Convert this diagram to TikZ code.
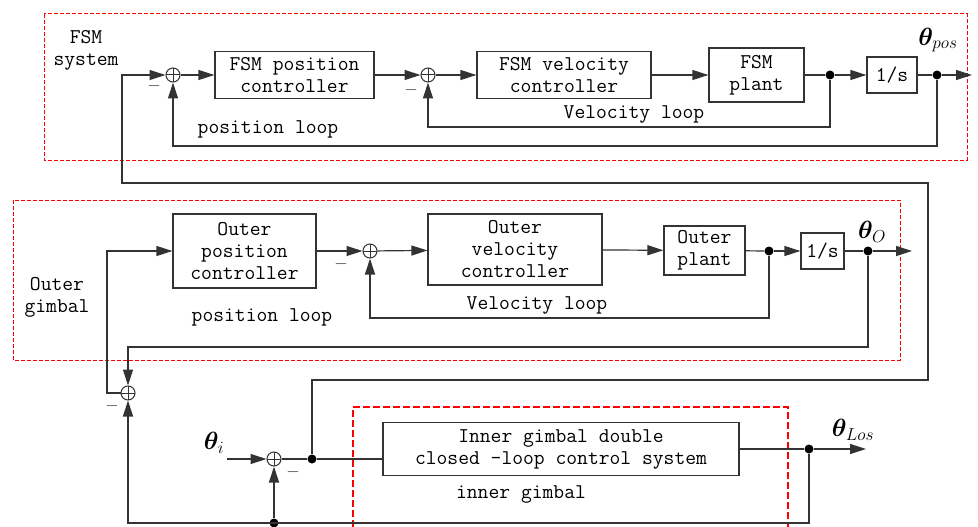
\documentclass[tikz,border=0pt]{standalone}
\usepackage{fontspec}
\usepackage{bm}
\usetikzlibrary{arrows.meta}

\newcommand\blkfont{\ttfamily\fontsize{21}{22}\selectfont}

\tikzset{
  sig/.style={line width=1.2pt, draw=black!80},
  arr/.style={sig, -{Triangle[length=16pt,width=10pt]}},
  blk/.style={draw=black!80, line width=1.2pt, inner sep=0pt, align=center, font=\blkfont},
  sumpt/.style={circle, draw=black!80, line width=1pt, minimum size=14pt, inner sep=0pt,
    path picture={\draw[line width=1pt] (path picture bounding box.north) -- (path picture bounding box.south)
      (path picture bounding box.west) -- (path picture bounding box.east);}},
  dot/.style={circle, fill=black, inner sep=0pt, minimum size=9pt},
  grp/.style={draw=red, line width=1pt, dash pattern=on 4pt off 2pt},
  lbl/.style={font=\blkfont, align=center, inner sep=0pt},
  sgn/.style={font=\fontsize{16}{16}\selectfont, text=black!80, inner sep=0pt},
  ang/.style={font=\fontsize{24}{24}\selectfont, inner sep=0pt}
}

\begin{document}
\begin{tikzpicture}[x=1pt, y=-1pt]
  \useasboundingbox (0,0) rectangle (978,527);

  % dashed group frames
  \draw[grp] (44,14) rectangle (967,160);
  \draw[grp] (13,200) rectangle (900,360);
  \draw[grp, line width=1.1pt, dash pattern=on 7pt off 3pt] (353,527) -- (353,407) -- (788,407) -- (788,527);

  % FSM system
  \node[lbl] (fsmlbl) at (86,50) {FSM\\system};
  \node[sumpt] (s1) at (173,75) {};
  \node[blk, minimum width=159pt, minimum height=47pt] (fpc) at (294.5,75) {FSM position\\controller};
  \node[sumpt] (s2) at (428,75) {};
  \node[blk, minimum width=174pt, minimum height=47pt] (fvc) at (564,75) {FSM velocity\\controller};
  \node[blk, minimum width=95pt, minimum height=54pt] (fpl) at (756.5,75) {FSM\\plant};
  \node[dot] (d1) at (830,75) {};
  \node[blk, minimum width=50pt, minimum height=36pt] (fint) at (892,75) {1/s};
  \node[dot] (d2) at (937,75) {};
  \coordinate (fout) at (972,75);
  \node[ang] (tpos) at (938,40) {$\bm{\theta}_{pos}$};
  \node[sgn] (m1) at (154,86) {$-$};
  \node[sgn] (m2) at (411,90) {$-$};
  \node[lbl] (vl1) at (634,114) {Velocity loop};
  \node[lbl] (pl1) at (268,129) {position loop};

  \draw[arr] (s1) -- (fpc);
  \draw[arr] (fpc) -- (s2);
  \draw[arr] (s2) -- (fvc);
  \draw[arr] (fvc) -- (fpl);
  \draw[sig] (fpl) -- (d1);
  \draw[arr] (d1) -- (fint);
  \draw[sig] (fint) -- (d2);
  \draw[arr] (d2) -- (fout);
  \draw[arr] (d1) -- (d1 |- 0,127) -| (s2);
  \draw[arr] (d2) -- (d2 |- 0,146) -| (s1);

  % outer gimbal
  \node[lbl] (outlbl) at (57,297) {Outer\\gimbal};
  \node[sumpt] (s3) at (128,393) {};
  \node[blk, minimum width=143pt, minimum height=74pt] (opc) at (244.5,251) {Outer\\position\\controller};
  \node[sumpt] (s4) at (370,251) {};
  \node[blk, minimum width=174pt, minimum height=71pt] (ovc) at (515,249.5) {Outer\\velocity\\controller};
  \node[blk, minimum width=81pt, minimum height=49pt] (opl) at (704.5,250.5) {Outer\\plant};
  \node[dot] (d3) at (769,251) {};
  \node[blk, minimum width=43pt, minimum height=36pt] (oint) at (822.5,251) {1/s};
  \node[dot] (d4) at (868,251) {};
  \coordinate (oout) at (912,251);
  \node[ang] (to) at (872,232) {$\bm{\theta}_{O}$};
  \node[sgn] (m3) at (341,264) {$-$};
  \node[sgn] (m4) at (112,406) {$-$};
  \node[lbl] (vl2) at (537,305) {Velocity loop};
  \node[lbl] (pl2) at (262,317) {position loop};

  \draw[arr] (s3) -- (s3 -| 107,0) |- (opc);
  \draw[arr] (opc) -- (s4);
  \draw[arr] (s4) -- (ovc);
  \draw[arr] (ovc) -- (opl);
  \draw[sig] (opl) -- (d3);
  \draw[arr] (d3) -- (oint);
  \draw[sig] (oint) -- (d4);
  \draw[arr] (d4) -- (oout);
  \draw[arr] (d3) -- (d3 |- 0,318) -| (s4);
  \draw[arr] (d4) -- (d4 |- 0,347) -| (s3);

  % inner gimbal
  \coordinate (tin) at (227,459);
  \node[ang] (ti) at (214,443) {$\bm{\theta}_{i}$};
  \node[sumpt] (s5) at (274,459) {};
  \node[sgn] (m5) at (293,472) {$-$};
  \node[dot] (d5) at (312,459) {};
  \node[blk, minimum width=356pt, minimum height=53pt] (inner) at (561,449) {Inner gimbal double\\closed -loop control system};
  \node[dot] (d6) at (809,449) {};
  \coordinate (iout) at (866,449);
  \node[ang] (tlos) at (853,430) {$\bm{\theta}_{Los}$};
  \node[dot] (d7) at (274,523) {};
  \node[lbl] (igl) at (521,494) {inner gimbal};

  \draw[arr] (tin) -- (s5);
  \draw[sig] (s5) -- (d5);
  \draw[sig] (d5) -- (d5 -| inner.west);
  \draw[sig] (inner) -- (d6);
  \draw[arr] (d6) -- (iout);
  \draw[arr] (d6) -- (d6 |- 0,523) -| (s3);
  \draw[arr] (d7) -- (s5);

  % error signal fed forward to the FSM
  \draw[arr] (d5) -- (d5 |- 0,380) -| (928,183) -| (122,75) -- (s1);
\end{tikzpicture}
\end{document}
